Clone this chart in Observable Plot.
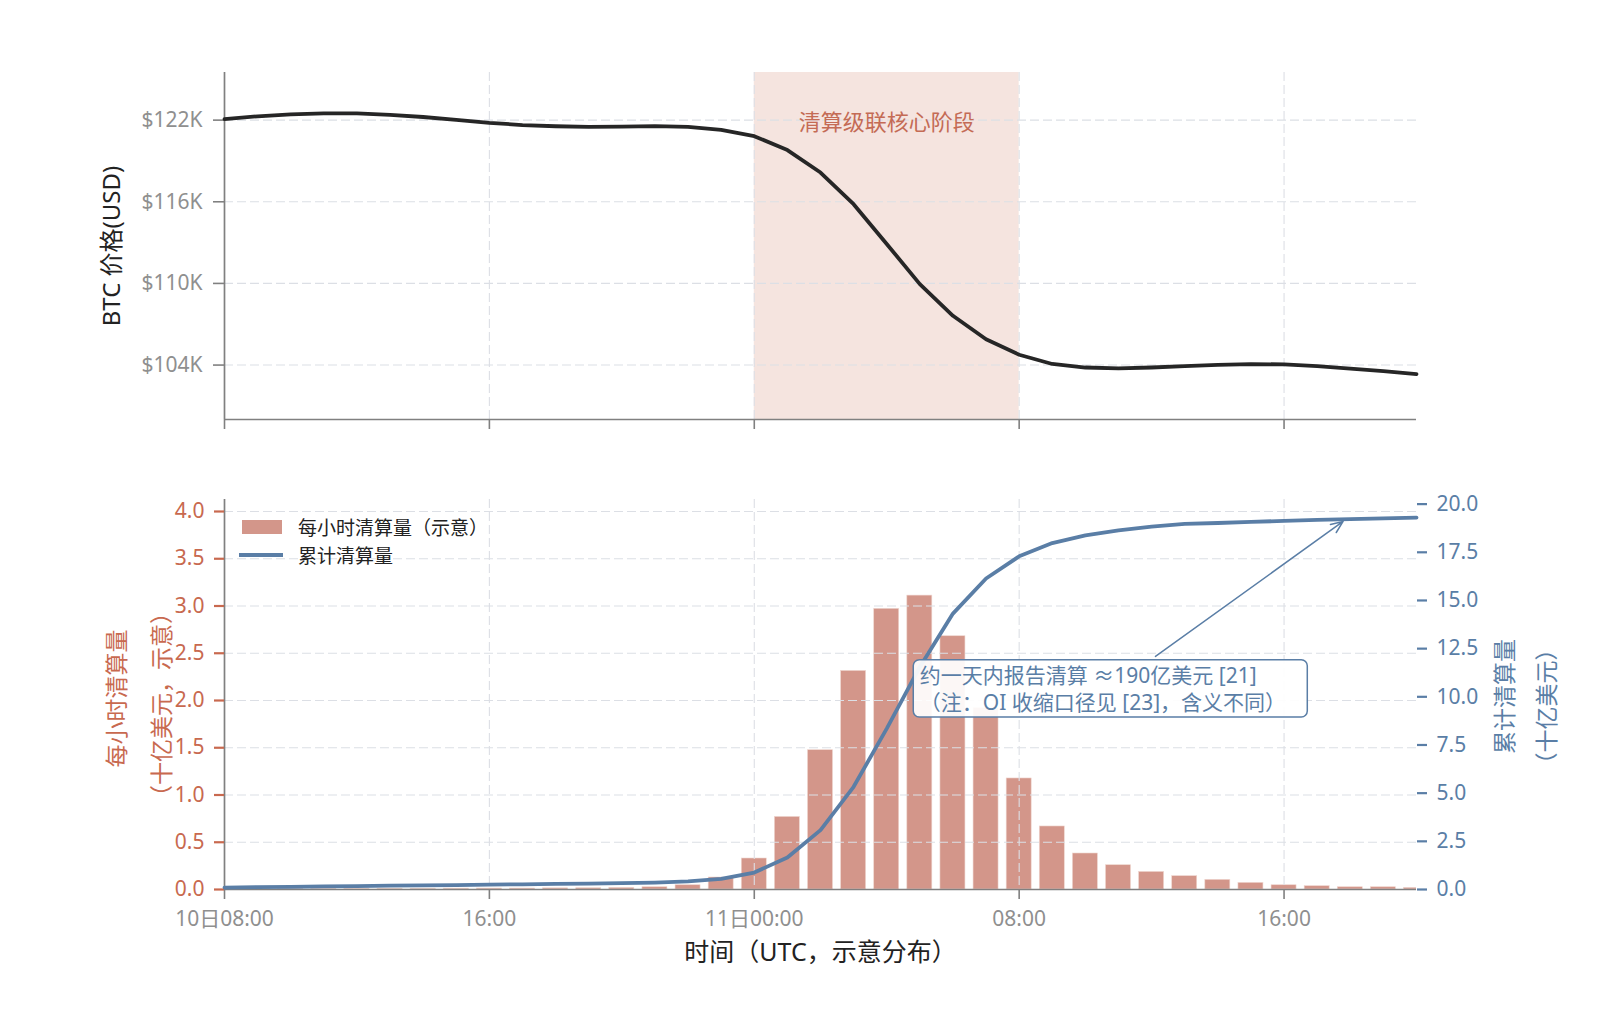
<!DOCTYPE html>
<html>
<head>
<meta charset="utf-8">
<script src="https://cdn.jsdelivr.net/npm/d3@7"></script>
<script src="https://cdn.jsdelivr.net/npm/@observablehq/plot@0.6"></script>
<style>
  body { margin: 0; background: #fff; }
  #wrap { position: relative; width: 1600px; height: 1022px; font-family: "Noto Sans", "Noto Sans CJK SC", sans-serif; }
  #wrap svg { position: absolute; left: 0; top: 0; }
  .legend { position: absolute; left: 0; top: 0; font-size: 19px; color: #222; }
  .lg-row { position: absolute; display: flex; align-items: center; white-space: nowrap; }
</style>
</head>
<body>
<div id="wrap"></div>
<script>
// ---------------- data ----------------
const times = [
  "2025-10-10T08:00Z","2025-10-10T09:00Z","2025-10-10T10:00Z","2025-10-10T11:00Z","2025-10-10T12:00Z",
  "2025-10-10T13:00Z","2025-10-10T14:00Z","2025-10-10T15:00Z","2025-10-10T16:00Z","2025-10-10T17:00Z",
  "2025-10-10T18:00Z","2025-10-10T19:00Z","2025-10-10T20:00Z","2025-10-10T21:00Z","2025-10-10T22:00Z",
  "2025-10-10T23:00Z","2025-10-11T00:00Z","2025-10-11T01:00Z","2025-10-11T02:00Z","2025-10-11T03:00Z",
  "2025-10-11T04:00Z","2025-10-11T05:00Z","2025-10-11T06:00Z","2025-10-11T07:00Z","2025-10-11T08:00Z",
  "2025-10-11T09:00Z","2025-10-11T10:00Z","2025-10-11T11:00Z","2025-10-11T12:00Z","2025-10-11T13:00Z",
  "2025-10-11T14:00Z","2025-10-11T15:00Z","2025-10-11T16:00Z","2025-10-11T17:00Z","2025-10-11T18:00Z",
  "2025-10-11T19:00Z","2025-10-11T20:00Z"
];
const priceUSD = [
  122070,122280,122420,122500,122490,122390,122230,122020,121800,121640,
  121550,121510,121520,121560,121510,121280,120820,119800,118150,115820,
  112900,109950,107620,105900,104760,104080,103820,103760,103820,103920,
  104020,104070,104050,103920,103740,103550,103340
];
const hourlyB = [
  0.006,0.006,0.007,0.007,0.007,0.008,0.008,0.009,0.010,0.010,
  0.012,0.013,0.017,0.024,0.045,0.127,0.328,0.768,1.474,2.313,
  2.970,3.110,2.680,1.920,1.175,0.667,0.381,0.257,0.186,0.141,
  0.102,0.070,0.045,0.035,0.024,0.024,0.017
];
const cumB = [
  0.10,0.12,0.14,0.16,0.18,0.20,0.21,0.23,0.25,0.27,
  0.29,0.31,0.33,0.36,0.42,0.55,0.88,1.66,3.08,5.33,
  8.35,11.55,14.32,16.14,17.29,17.98,18.38,18.64,18.83,18.97,
  19.02,19.08,19.13,19.18,19.22,19.26,19.30
];
const xTickTimes = ["2025-10-10T08:00Z","2025-10-10T16:00Z","2025-10-11T00:00Z","2025-10-11T08:00Z","2025-10-11T16:00Z"];
const xTickLabels = ["10日08:00","16:00","11日00:00","08:00","16:00"];
const priceTicks = [104000,110000,116000,122000];
const leftTicks = [0,0.5,1,1.5,2,2.5,3,3.5,4];
const rightTicks = [0,2.5,5,7.5,10,12.5,15,17.5,20];
const bandRange = {a: "2025-10-11T00:00Z", b: "2025-10-11T08:00Z"};
const bandLabel = "清算级联核心阶段";
const noteLines = "约一天内报告清算 ≈190亿美元 [21]\n（注：OI 收缩口径见 [23]，含义不同）";
const legendLabels = ["每小时清算量（示意）", "累计清算量"];

// ---------------- setup ----------------
const FONT = '"Noto Sans", "Noto Sans CJK SC", sans-serif';
const ORANGE = "#c8694f", BLUE = "#5a7ea6", BAR = "#d3968a", GRAYT = "#8f8f8f", SPINE = "#808080";
const W = 1600, H = 1022;
const data = times.map((t, i) => ({t: new Date(t), price: priceUSD[i], hourly: hourlyB[i], cum: cumB[i]}));
const tStart = new Date(times[0]), tEnd = new Date(times[times.length - 1]);
const xTicksD = xTickTimes.map(s => new Date(s));
const fmtX = d => xTickLabels[xTickTimes.findIndex(s => +new Date(s) === +d)];
const HALF = 22.65 * 60000;
const D = s => new Date(s);
const grid = {stroke: "#dcdfe5", strokeOpacity: 1, strokeWidth: 1.1, strokeDasharray: "9,4"};
const spine = {stroke: SPINE, strokeWidth: 1.7};
const base = {width: W, height: H, marginLeft: 224, marginRight: W - 1416,
  style: {background: "transparent", fontFamily: FONT, fontSize: "20px", overflow: "visible"}};
const wrap = document.getElementById("wrap");

// ---------------- top panel: price ----------------
const topPlot = Plot.plot({
  ...base, marginTop: 72, marginBottom: H - 419,
  x: {type: "utc", domain: [tStart, tEnd]},
  y: {domain: [100000, 125500]},
  marks: [
    Plot.rect([bandRange], {x1: d => D(d.a), x2: d => D(d.b), fill: "#f5e4df"}),
    Plot.gridY(priceTicks, grid),
    Plot.gridX(xTicksD.slice(1), grid),
    Plot.ruleX([tStart], spine),
    Plot.ruleY([100000], spine),
    Plot.axisX(xTicksD, {tickSize: 10, tickFormat: () => "", stroke: SPINE, strokeWidth: 1.6, label: null}),
    Plot.axisY(priceTicks, {tickSize: 11, tickPadding: 11, tickFormat: d => `$${d / 1000}K`,
      stroke: SPINE, fill: GRAYT, strokeWidth: 1.6, fontSize: 21, label: null}),
    Plot.line(data, {x: "t", y: "price", stroke: "#262626", strokeWidth: 3.8}),
    Plot.text([bandLabel], {x: () => D("2025-10-11T04:00Z"), y: () => 121820, text: d => d,
      fill: "#c46b55", fontSize: 22, lineAnchor: "middle"}),
    Plot.text(["BTC 价格(USD)"], {frameAnchor: "left", dx: -112, rotate: -90, text: d => d,
      textAnchor: "middle", lineAnchor: "middle", fill: "#222", fontSize: 24})
  ]
});
wrap.appendChild(topPlot);

// ---------------- bottom panel: hourly bars (left axis) ----------------
const botPlot = Plot.plot({
  ...base, marginTop: 499, marginBottom: H - 889,
  x: {type: "utc", domain: [tStart, tEnd]},
  y: {domain: [0, 4.127]},
  marks: [
    Plot.rectY(data, {x1: d => new Date(+d.t - HALF), x2: d => new Date(+d.t + HALF), y: "hourly",
      fill: BAR, stroke: "#efd6cf", strokeWidth: 0.6, clip: true}),
    Plot.gridY(leftTicks.slice(1), grid),
    Plot.gridX(xTicksD.slice(1), grid),
    Plot.ruleX([tStart], spine),
    Plot.ruleY([0], spine),
    Plot.axisX(xTicksD, {tickSize: 10, tickPadding: 12, tickFormat: fmtX, stroke: SPINE, fill: GRAYT,
      strokeWidth: 1.6, fontSize: 21, label: null}),
    Plot.axisY(leftTicks, {tickSize: 10, tickPadding: 10, tickFormat: d3.format(".1f"), color: ORANGE,
      strokeWidth: 2.2, fontSize: 21, label: null}),
    Plot.text(["每小时清算量"], {frameAnchor: "left", dx: -107, dy: 4, rotate: -90, text: d => d,
      textAnchor: "middle", lineAnchor: "middle", fill: ORANGE, fontSize: 23}),
    Plot.text(["（十亿美元，示意）"], {frameAnchor: "left", dx: -62, dy: 10, rotate: -90, text: d => d,
      textAnchor: "middle", lineAnchor: "middle", fill: ORANGE, fontSize: 23}),
    Plot.text(["时间（UTC，示意分布）"], {frameAnchor: "bottom", dy: 63, text: d => d,
      textAnchor: "middle", fill: "#222", fontSize: 25, lineAnchor: "middle"})
  ]
});
wrap.appendChild(botPlot);

// ---------------- bottom panel: cumulative (right axis) ----------------
const note = {x1: "2025-10-11T04:49Z", x2: "2025-10-11T16:43Z", y1: 8.93, y2: 11.9, tx: "2025-10-11T05:00Z", ty: 10.47};
const arrow = {x1: "2025-10-11T12:07Z", y1: 12.1, x2: "2025-10-11T17:47Z", y2: 19.1};
const cumPlot = Plot.plot({
  ...base, marginTop: 499, marginBottom: H - 889,
  x: {type: "utc", domain: [tStart, tEnd], axis: null},
  y: {domain: [0, 20.24], axis: null},
  marks: [
    Plot.line(data, {x: "t", y: "cum", stroke: BLUE, strokeWidth: 3.8}),
    Plot.rect([note], {x1: d => D(d.x1), x2: d => D(d.x2), y1: "y1", y2: "y2",
      fill: "white", fillOpacity: 0.92, stroke: BLUE, strokeWidth: 1.5, rx: 6}),
    Plot.text([note], {x: d => D(d.tx), y: "ty", text: () => noteLines, textAnchor: "start",
      lineAnchor: "middle", lineHeight: 1.28, fontSize: 21, fill: BLUE}),
    Plot.arrow([arrow], {x1: d => D(d.x1), y1: "y1", x2: d => D(d.x2), y2: "y2",
      stroke: BLUE, strokeWidth: 1.5, headLength: 13, headAngle: 45}),
    Plot.axisY(rightTicks, {anchor: "right", tickSize: 10, tickPadding: 10, tickFormat: d3.format(".1f"),
      color: BLUE, strokeWidth: 2.2, fontSize: 21, label: null}),
    Plot.text(["累计清算量"], {frameAnchor: "right", dx: 89, dy: 2, rotate: -90, text: d => d,
      textAnchor: "middle", lineAnchor: "middle", fill: BLUE, fontSize: 23}),
    Plot.text(["（十亿美元）"], {frameAnchor: "right", dx: 131, dy: 12, rotate: -90, text: d => d,
      textAnchor: "middle", lineAnchor: "middle", fill: BLUE, fontSize: 23})
  ]
});
wrap.appendChild(cumPlot);

// ---------------- legend ----------------
const lg = document.createElement("div");
lg.className = "legend";
lg.innerHTML = `
  <div class="lg-row" style="left:242px;top:514px;height:26px;">
    <span style="display:inline-block;width:40px;height:14px;background:${BAR};margin-right:16px;"></span>${legendLabels[0]}</div>
  <div class="lg-row" style="left:239px;top:542px;height:26px;">
    <span style="display:inline-block;width:44px;height:4px;background:${BLUE};margin-right:15px;"></span>${legendLabels[1]}</div>`;
wrap.appendChild(lg);
</script>
</body>
</html>
